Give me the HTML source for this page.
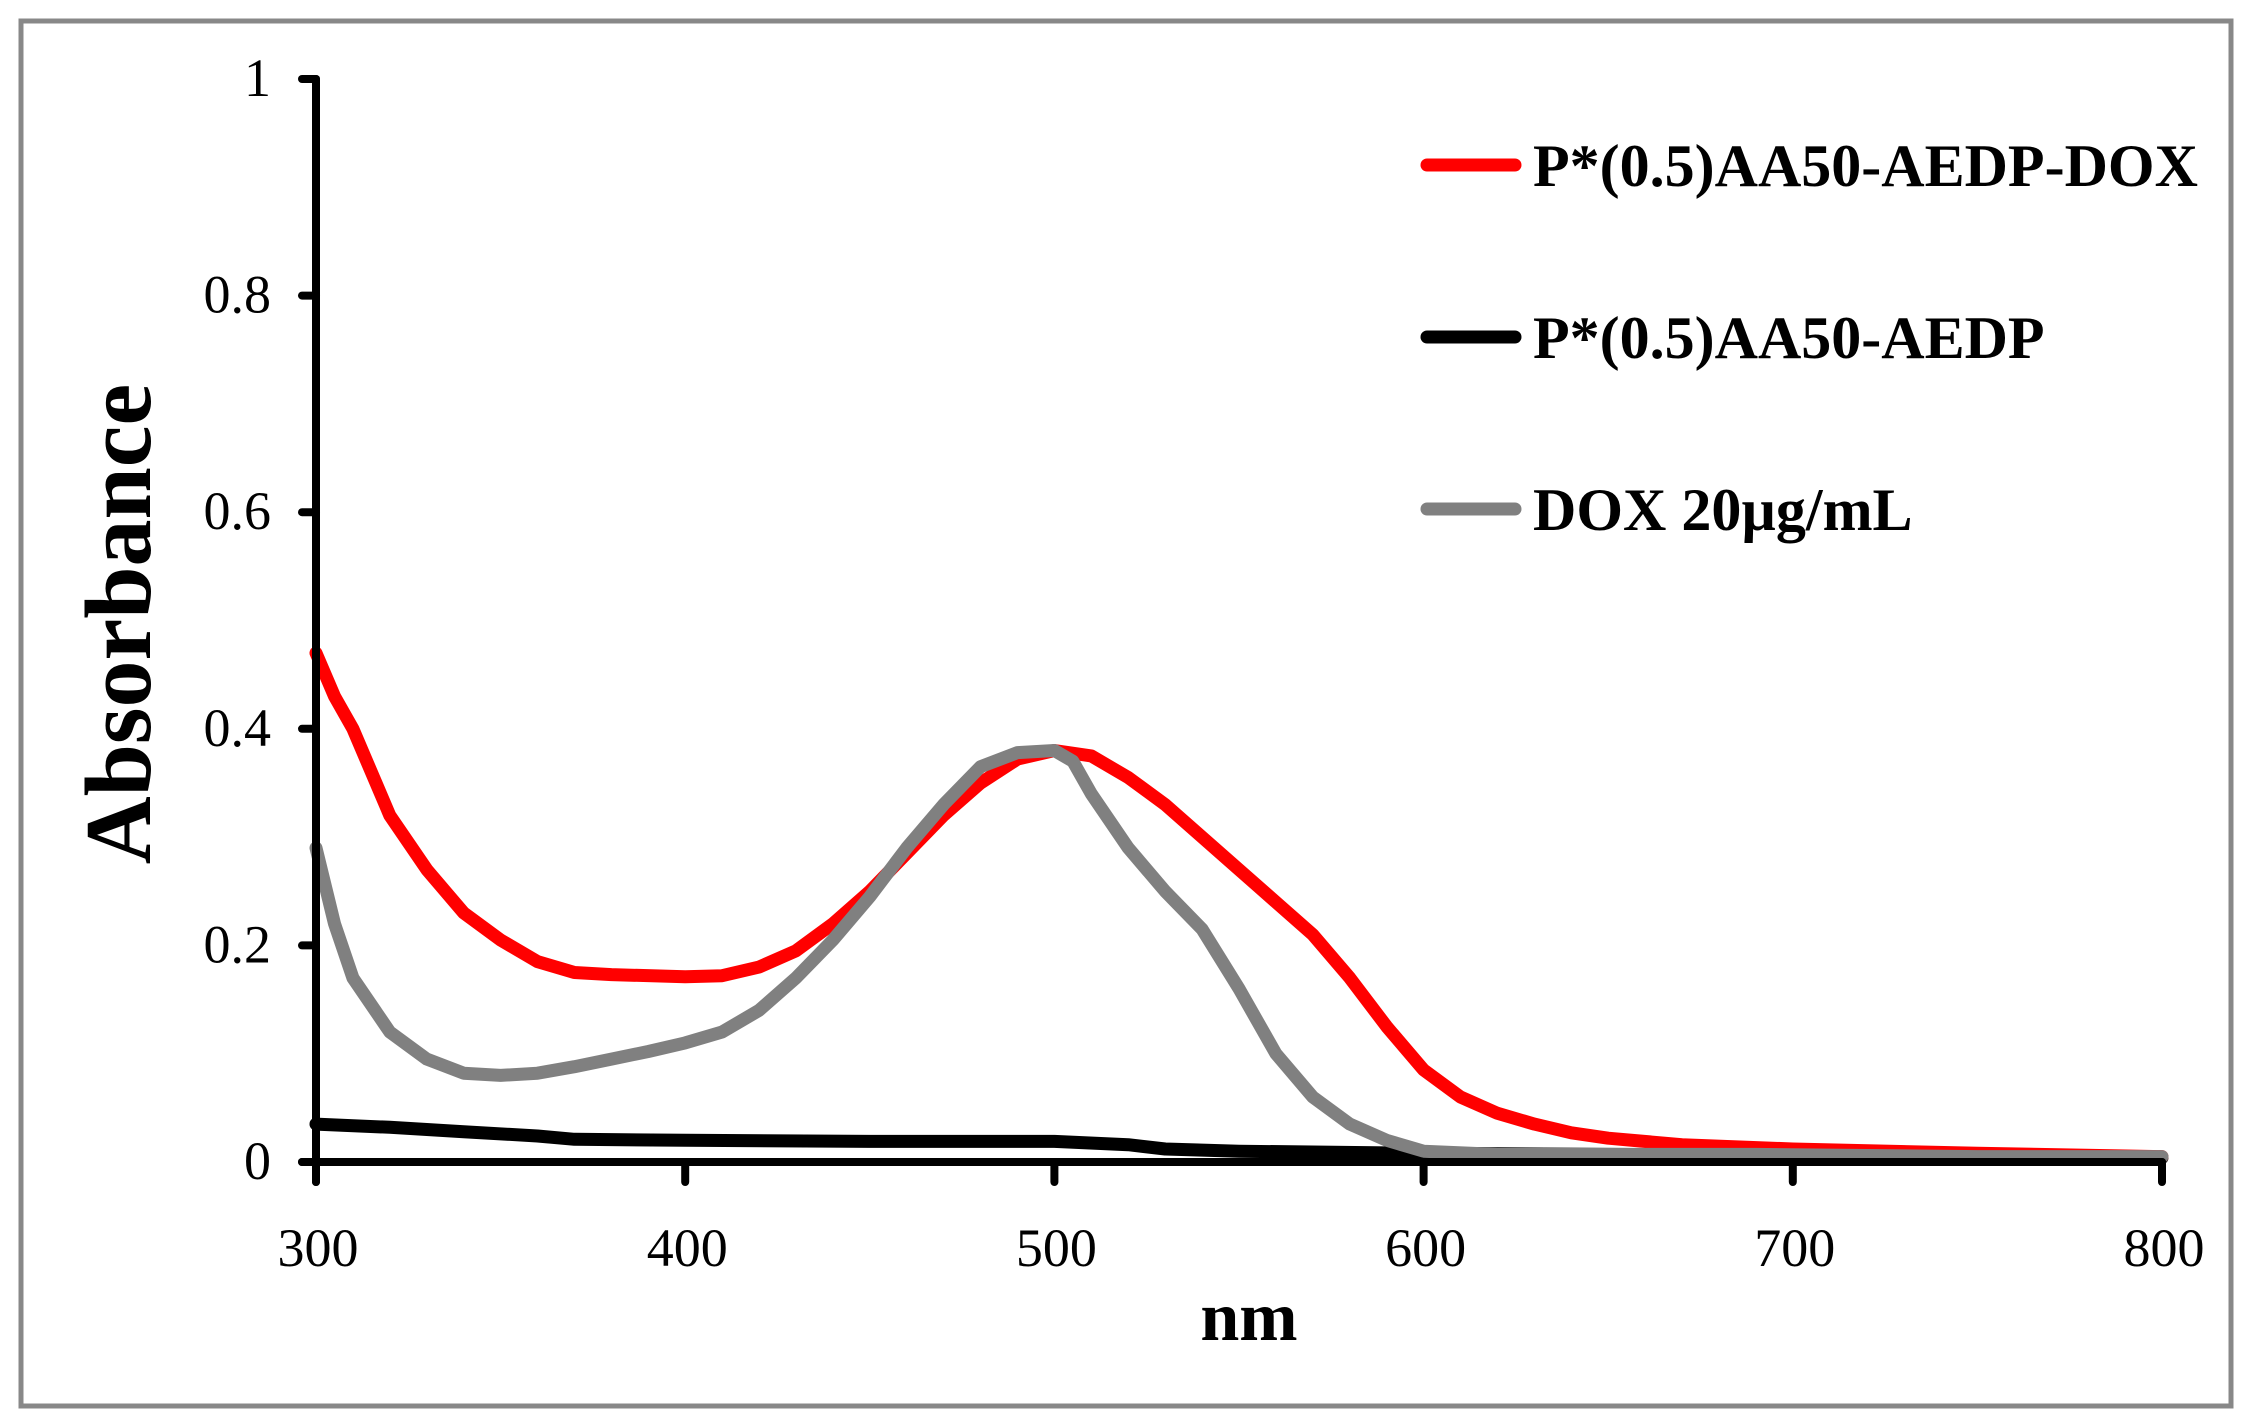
<!DOCTYPE html>
<html><head><meta charset="utf-8"><style>
html,body{margin:0;padding:0;background:#fff;}
svg{display:block;}
text{font-family:"Liberation Serif",serif;fill:#000;}
</style></head><body>
<svg id="chart" width="2247" height="1425" viewBox="0 0 2247 1425" xmlns="http://www.w3.org/2000/svg">
<rect x="21" y="21" width="2210" height="1385" fill="#fff" stroke="#888" stroke-width="5"/>
<g id="series"></g>
<g id="axes"></g>
<text x="1249" y="1340" font-size="70" font-weight="bold" text-anchor="middle">nm</text>
<text x="0" y="0" font-size="94" font-weight="bold" text-anchor="middle" transform="translate(150,624) rotate(-90)">Absorbance</text>
<g id="legend"></g>
</svg>
<script>
const redX=[300,305,310,320,330,340,350,360,370,380,400,410,420,430,440,450,460,470,480,490,500,510,520,530,540,550,560,570,580,590,600,610,620,630,640,650,670,700,750,800];
const redY=[0.47,0.43,0.40,0.32,0.27,0.23,0.205,0.185,0.175,0.173,0.171,0.172,0.18,0.195,0.22,0.25,0.285,0.32,0.35,0.372,0.38,0.375,0.355,0.33,0.30,0.27,0.24,0.21,0.17,0.125,0.085,0.06,0.045,0.035,0.027,0.022,0.016,0.012,0.008,0.005];
const grayX=[300,305,310,320,330,340,350,360,370,380,390,400,410,420,430,440,450,460,470,480,490,500,505,510,520,530,540,550,560,570,580,590,600,620,650,690,750,800];
const grayY=[0.29,0.22,0.17,0.12,0.095,0.082,0.08,0.082,0.088,0.095,0.102,0.11,0.12,0.14,0.17,0.205,0.245,0.29,0.33,0.365,0.378,0.38,0.37,0.34,0.29,0.25,0.215,0.16,0.10,0.06,0.035,0.02,0.01,0.007,0.007,0.007,0.005,0.005];
const blackX=[300,320,340,360,370,400,450,500,520,530,550,600,700,800];
const blackY=[0.035,0.032,0.028,0.024,0.021,0.02,0.019,0.019,0.016,0.012,0.01,0.008,0.006,0.004];
const xTicks=[300,400,500,600,700,800];
const yTicks=[0,0.2,0.4,0.6,0.8,1];
const yTickLabels=["0","0.2","0.4","0.6","0.8","1"];
const legendLabels=["P*(0.5)AA50-AEDP-DOX","P*(0.5)AA50-AEDP","DOX 20µg/mL"];
const legendColors=["#ff0000","#000000","#808080"];

const NS="http://www.w3.org/2000/svg";
const X0=316,X1=2162,Y0=1162,Y1=79;
function sx(v){return X0+(v-300)/(800-300)*(X1-X0);}
function sy(v){return Y0-(v-0)/(1-0)*(Y0-Y1);}
function mk(tag,attrs,parent){const e=document.createElementNS(NS,tag);for(const k in attrs)e.setAttribute(k,attrs[k]);parent.appendChild(e);return e;}

const series=document.getElementById('series');
function drawLine(xs,ys,color,name){
  let d='';
  for(let i=0;i<xs.length;i++){d+=(i?'L':'M')+sx(xs[i]).toFixed(1)+','+sy(ys[i]).toFixed(1);}
  const p=mk('path',{d:d,fill:'none',stroke:color,'stroke-width':13,'stroke-linejoin':'round','stroke-linecap':'round'},series);
  
  
}
drawLine(blackX,blackY,'#000000','series-p-aa50-aedp');
drawLine(redX,redY,'#ff0000','series-p-aa50-aedp-dox');
drawLine(grayX,grayY,'#808080','series-dox-20');

const axes=document.getElementById('axes');
const ya=mk('line',{x1:X0,y1:Y1,x2:X0,y2:Y0+20,stroke:'#000','stroke-width':8,'stroke-linecap':'round'},axes);


const xa=mk('line',{x1:X0-14,y1:Y0,x2:X1,y2:Y0,stroke:'#000','stroke-width':8,'stroke-linecap':'round'},axes);


yTicks.forEach((v,i)=>{
  const t=mk('line',{x1:X0-14,y1:sy(v),x2:X0,y2:sy(v),stroke:'#000','stroke-width':8,'stroke-linecap':'round'},axes);
  
  
  const l=mk('text',{x:271,y:sy(v)+17,'font-size':54,'text-anchor':'end'},axes);
  l.textContent=yTickLabels[i];
  
  
});
xTicks.forEach(v=>{
  const t=mk('line',{x1:sx(v),y1:Y0,x2:sx(v),y2:Y0+20,stroke:'#000','stroke-width':8,'stroke-linecap':'round'},axes);
  
  
  const l=mk('text',{x:sx(v)+2,y:1266,'font-size':54,'text-anchor':'middle'},axes);
  l.textContent=String(v);
  
  
});

const legend=document.getElementById('legend');
legendLabels.forEach((lab,i)=>{
  const y=165+i*172;
  const ln=mk('line',{x1:1427,y1:y,x2:1515,y2:y,stroke:legendColors[i],'stroke-width':13,'stroke-linecap':'round'},legend);
  
  
  const t=mk('text',{x:1533,y:y+21,'font-size':60,'font-weight':'bold'},legend);
  t.textContent=lab;
  
  
});
</script>
</body></html>
